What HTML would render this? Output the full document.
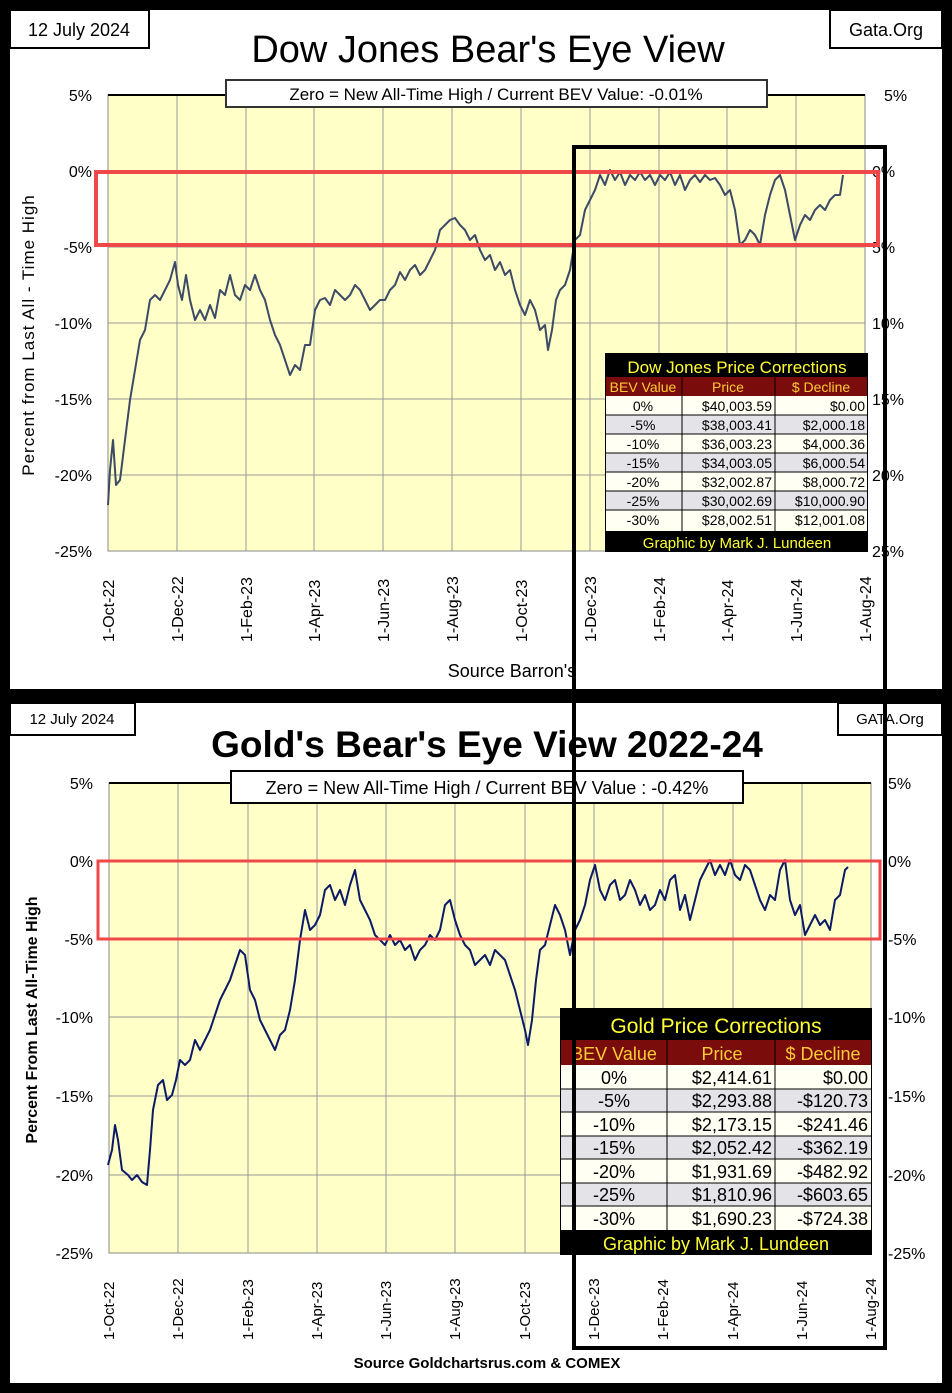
<!DOCTYPE html>
<html><head><meta charset="utf-8"><style>
html,body{margin:0;padding:0;background:#000;}
svg{display:block;}
.c{font-family:"Liberation Sans Narrow","Liberation Sans",sans-serif;}
.a{font-family:"Liberation Sans",sans-serif;}
</style></head><body>
<svg width="952" height="1393" viewBox="0 0 952 1393" xmlns="http://www.w3.org/2000/svg">
<rect x="0" y="0" width="952" height="1393" fill="#000"/>
<!-- TOP PANEL -->
<rect x="10" y="10" width="932" height="679" fill="#fff"/>
<rect x="10" y="10" width="139" height="38" fill="#fff" stroke="#000" stroke-width="2"/>
<text x="79" y="36" class="c" font-size="18" text-anchor="middle">12 July 2024</text>
<rect x="830" y="10" width="112" height="38" fill="#fff" stroke="#000" stroke-width="2"/>
<text x="886" y="36" class="c" font-size="18" text-anchor="middle">Gata.Org</text>
<text x="488" y="62" class="c" font-size="38" text-anchor="middle">Dow Jones Bear's Eye View</text>
<rect x="108" y="95" width="757" height="456" fill="#ffffc8" stroke="#888" stroke-width="1"/>
<g stroke="#999" stroke-width="1">
<line x1="177" y1="95" x2="177" y2="551"/><line x1="246" y1="95" x2="246" y2="551"/><line x1="314" y1="95" x2="314" y2="551"/><line x1="383" y1="95" x2="383" y2="551"/><line x1="452" y1="95" x2="452" y2="551"/><line x1="521" y1="95" x2="521" y2="551"/><line x1="590" y1="95" x2="590" y2="551"/><line x1="659" y1="95" x2="659" y2="551"/><line x1="727" y1="95" x2="727" y2="551"/><line x1="796" y1="95" x2="796" y2="551"/>
<line x1="108" y1="171" x2="865" y2="171"/><line x1="108" y1="247" x2="865" y2="247"/><line x1="108" y1="323" x2="865" y2="323"/><line x1="108" y1="399" x2="865" y2="399"/><line x1="108" y1="475" x2="865" y2="475"/>
</g>
<line x1="108" y1="95" x2="865" y2="95" stroke="#000" stroke-width="2"/>
<g class="a" font-size="16" text-anchor="end">
<text x="92" y="101">5%</text><text x="92" y="177">0%</text><text x="92" y="253">-5%</text><text x="92" y="329">-10%</text><text x="92" y="405">-15%</text><text x="92" y="481">-20%</text><text x="92" y="557">-25%</text>
</g>
<g class="c" font-size="16">
<text x="884" y="101">5%</text><text x="872" y="177">0%</text><text x="872" y="253">5%</text><text x="872" y="329">10%</text><text x="872" y="405">15%</text><text x="872" y="481">20%</text><text x="872" y="557">25%</text>
</g>
<text transform="translate(34,335) rotate(-90)" class="c" font-size="17" text-anchor="middle" letter-spacing="1">Percent  from  Last  All - Time  High</text>
<g class="a" font-size="16">
<text transform="translate(114,642) rotate(-90)">1-Oct-22</text>
<text transform="translate(183,642) rotate(-90)">1-Dec-22</text>
<text transform="translate(252,642) rotate(-90)">1-Feb-23</text>
<text transform="translate(320,642) rotate(-90)">1-Apr-23</text>
<text transform="translate(389,642) rotate(-90)">1-Jun-23</text>
<text transform="translate(458,642) rotate(-90)">1-Aug-23</text>
<text transform="translate(527,642) rotate(-90)">1-Oct-23</text>
<text transform="translate(596,642) rotate(-90)">1-Dec-23</text>
<text transform="translate(665,642) rotate(-90)">1-Feb-24</text>
<text transform="translate(733,642) rotate(-90)">1-Apr-24</text>
<text transform="translate(802,642) rotate(-90)">1-Jun-24</text>
<text transform="translate(871,642) rotate(-90)">1-Aug-24</text>
</g>
<text x="512" y="677" class="c" font-size="18" text-anchor="middle">Source Barron's</text>
<rect x="226" y="80" width="541" height="27" fill="#fff" stroke="#333" stroke-width="2"/>
<text x="496" y="100" class="c" font-size="17" text-anchor="middle">Zero = New All-Time High / Current BEV Value:  -0.01%</text>
<polyline fill="none" stroke="#3d4a66" stroke-width="2" stroke-linejoin="round" points="108,505 110,470 113,440 116,485 120,480 125,440 130,400 135,370 140,340 145,330 150,300 155,295 160,300 165,290 170,280 175,262 178,285 182,300 186,275 190,300 195,320 200,310 205,320 210,305 215,318 220,290 225,295 230,275 235,295 240,300 245,285 250,290 255,275 260,290 265,300 270,320 275,335 280,345 285,360 290,375 295,365 300,370 305,345 310,345 315,310 320,300 325,298 330,305 335,290 340,295 345,300 350,295 355,285 360,290 365,300 370,310 375,305 380,300 385,300 390,290 395,285 400,272 405,280 410,270 415,265 420,275 425,270 430,260 435,250 440,230 445,225 450,220 455,218 460,225 465,230 470,240 475,235 480,250 485,260 490,255 495,270 500,262 505,275 510,270 515,290 520,305 525,315 530,300 535,310 540,330 545,325 548,350 552,330 556,300 560,290 565,285 570,270 575,240 580,235 585,210 590,200 595,190 600,175 605,185 610,170 615,180 620,172 625,185 630,175 635,180 640,172 645,180 650,175 655,185 660,175 665,180 670,172 675,185 680,175 685,190 690,180 695,175 700,182 705,175 710,180 715,178 720,185 725,195 730,190 735,210 740,245 745,240 750,230 755,235 760,245 765,215 770,195 775,180 780,175 785,190 790,215 795,240 800,225 805,215 810,220 815,210 820,205 825,210 830,200 835,195 840,195 843,175"/>
<rect x="96" y="172" width="782" height="73" fill="none" stroke="#f04848" stroke-width="4"/>
<!-- Dow table -->
<g class="a">
<rect x="605" y="353" width="263" height="199" fill="#000"/>
<text x="737" y="373" font-size="17" fill="#ffff33" text-anchor="middle">Dow Jones Price Corrections</text>
<rect x="606" y="377" width="261" height="19" fill="#7a0c0c"/>
<text x="643" y="392" font-size="14" fill="#ffcc33" text-anchor="middle">BEV Value</text>
<text x="728" y="392" font-size="14" fill="#ffcc33" text-anchor="middle">Price</text>
<text x="821" y="392" font-size="14" fill="#ffcc33" text-anchor="middle">$ Decline</text>
<g font-size="14">
<rect x="606" y="396" width="261" height="19" fill="#fffff4"/><rect x="606" y="415" width="261" height="19" fill="#e4e4e8"/><rect x="606" y="434" width="261" height="19" fill="#fffff4"/><rect x="606" y="453" width="261" height="19" fill="#e4e4e8"/><rect x="606" y="472" width="261" height="19" fill="#fffff4"/><rect x="606" y="491" width="261" height="19" fill="#e4e4e8"/><rect x="606" y="510" width="261" height="21" fill="#fffff4"/>
<g stroke="#000" stroke-width="1"><line x1="682" y1="377" x2="682" y2="531"/><line x1="775" y1="377" x2="775" y2="531"/>
<line x1="606" y1="415" x2="867" y2="415"/><line x1="606" y1="434" x2="867" y2="434"/><line x1="606" y1="453" x2="867" y2="453"/><line x1="606" y1="472" x2="867" y2="472"/><line x1="606" y1="491" x2="867" y2="491"/><line x1="606" y1="510" x2="867" y2="510"/></g>
<g text-anchor="middle"><text x="643" y="411">0%</text><text x="643" y="430">-5%</text><text x="643" y="449">-10%</text><text x="643" y="468">-15%</text><text x="643" y="487">-20%</text><text x="643" y="506">-25%</text><text x="643" y="525">-30%</text></g>
<g text-anchor="end"><text x="772" y="411">$40,003.59</text><text x="772" y="430">$38,003.41</text><text x="772" y="449">$36,003.23</text><text x="772" y="468">$34,003.05</text><text x="772" y="487">$32,002.87</text><text x="772" y="506">$30,002.69</text><text x="772" y="525">$28,002.51</text>
<text x="865" y="411">$0.00</text><text x="865" y="430">$2,000.18</text><text x="865" y="449">$4,000.36</text><text x="865" y="468">$6,000.54</text><text x="865" y="487">$8,000.72</text><text x="865" y="506">$10,000.90</text><text x="865" y="525">$12,001.08</text></g>
</g>
<text x="737" y="548" font-size="15" fill="#ffff33" text-anchor="middle">Graphic by Mark J. Lundeen</text>
</g>

<!-- BOTTOM PANEL -->
<rect x="10" y="703" width="932" height="680" fill="#fff"/>
<rect x="10" y="703" width="125" height="32" fill="#fff" stroke="#000" stroke-width="2"/>
<text x="72" y="724" class="c" font-size="15" text-anchor="middle">12 July 2024</text>
<rect x="838" y="703" width="104" height="32" fill="#fff" stroke="#000" stroke-width="2"/>
<text x="890" y="724" class="c" font-size="15" text-anchor="middle">GATA.Org</text>
<text x="487" y="757" class="c" font-size="37" font-weight="bold" text-anchor="middle">Gold's Bear's Eye View 2022-24</text>
<rect x="109" y="783" width="762" height="470" fill="#ffffc8" stroke="#888" stroke-width="1"/>
<g stroke="#999" stroke-width="1">
<line x1="178" y1="783" x2="178" y2="1253"/><line x1="248" y1="783" x2="248" y2="1253"/><line x1="317" y1="783" x2="317" y2="1253"/><line x1="386" y1="783" x2="386" y2="1253"/><line x1="455" y1="783" x2="455" y2="1253"/><line x1="525" y1="783" x2="525" y2="1253"/><line x1="594" y1="783" x2="594" y2="1253"/><line x1="663" y1="783" x2="663" y2="1253"/><line x1="733" y1="783" x2="733" y2="1253"/><line x1="802" y1="783" x2="802" y2="1253"/>
<line x1="109" y1="861" x2="871" y2="861"/><line x1="109" y1="939" x2="871" y2="939"/><line x1="109" y1="1017" x2="871" y2="1017"/><line x1="109" y1="1096" x2="871" y2="1096"/><line x1="109" y1="1175" x2="871" y2="1175"/>
</g>
<line x1="109" y1="783" x2="871" y2="783" stroke="#000" stroke-width="2"/>
<g class="c" font-size="16" text-anchor="end">
<text x="93" y="789">5%</text><text x="93" y="867">0%</text><text x="93" y="945">-5%</text><text x="93" y="1023">-10%</text><text x="93" y="1102">-15%</text><text x="93" y="1181">-20%</text><text x="93" y="1259">-25%</text>
</g>
<g class="c" font-size="16">
<text x="888" y="789">5%</text><text x="888" y="867">0%</text><text x="888" y="945">-5%</text><text x="888" y="1023">-10%</text><text x="888" y="1102">-15%</text><text x="888" y="1181">-20%</text><text x="888" y="1259">-25%</text>
</g>
<text transform="translate(37,1020) rotate(-90)" class="c" font-size="16" font-weight="bold" text-anchor="middle">Percent  From  Last  All-Time  High</text>
<g class="c" font-size="15">
<text transform="translate(114,1340) rotate(-90)">1-Oct-22</text>
<text transform="translate(183,1340) rotate(-90)">1-Dec-22</text>
<text transform="translate(253,1340) rotate(-90)">1-Feb-23</text>
<text transform="translate(322,1340) rotate(-90)">1-Apr-23</text>
<text transform="translate(391,1340) rotate(-90)">1-Jun-23</text>
<text transform="translate(460,1340) rotate(-90)">1-Aug-23</text>
<text transform="translate(530,1340) rotate(-90)">1-Oct-23</text>
<text transform="translate(599,1340) rotate(-90)">1-Dec-23</text>
<text transform="translate(668,1340) rotate(-90)">1-Feb-24</text>
<text transform="translate(738,1340) rotate(-90)">1-Apr-24</text>
<text transform="translate(807,1340) rotate(-90)">1-Jun-24</text>
<text transform="translate(876,1340) rotate(-90)">1-Aug-24</text>
</g>
<text x="487" y="1368" class="c" font-size="15" font-weight="bold" text-anchor="middle">Source Goldchartsrus.com  &amp; COMEX</text>
<rect x="231" y="771" width="512" height="32" fill="#fff" stroke="#000" stroke-width="2"/>
<text x="487" y="794" class="c" font-size="18" text-anchor="middle">Zero = New All-Time High / Current  BEV Value : -0.42%</text>
<polyline fill="none" stroke="#0c1a66" stroke-width="2" stroke-linejoin="round" points="108,1165 112,1150 115,1125 118,1140 122,1170 128,1175 132,1180 137,1175 142,1182 147,1185 150,1150 153,1110 158,1085 163,1080 167,1100 172,1095 176,1080 180,1060 185,1065 190,1060 195,1040 200,1050 205,1040 210,1030 215,1015 220,1000 225,990 230,980 235,965 240,950 245,955 250,990 255,1000 260,1020 265,1030 270,1040 275,1050 280,1035 285,1030 290,1010 295,980 300,940 305,910 310,930 315,925 320,915 325,890 330,885 335,900 340,890 345,905 350,885 355,870 360,900 365,910 370,920 375,935 380,940 385,945 390,935 395,945 400,940 405,950 410,945 415,960 420,950 425,945 430,935 435,940 440,930 445,905 450,900 455,920 460,935 465,945 470,950 475,965 480,960 485,955 490,965 495,950 500,955 505,960 510,975 515,990 520,1010 525,1030 528,1045 532,1020 536,980 540,950 545,945 550,925 555,905 560,915 565,930 570,955 575,930 580,920 585,905 590,880 595,865 600,890 605,900 610,885 615,880 620,900 625,895 630,880 635,890 640,905 645,895 650,910 655,905 660,890 665,900 670,880 675,875 680,910 685,895 690,920 695,900 700,880 705,870 710,860 715,875 720,865 725,875 730,860 735,875 740,880 745,865 750,870 755,885 760,900 765,910 770,895 775,900 780,870 785,860 790,900 795,915 800,905 805,935 810,925 815,915 820,925 825,920 830,930 835,900 840,895 845,870 848,867"/>
<rect x="98" y="861" width="782" height="78" fill="none" stroke="#f04848" stroke-width="3"/>
<!-- Gold table -->
<g class="a">
<rect x="560" y="1008" width="312" height="247" fill="#000"/>
<text x="716" y="1033" font-size="21" fill="#ffff33" text-anchor="middle">Gold Price Corrections</text>
<rect x="561" y="1040" width="310" height="25" fill="#7a0c0c"/>
<text x="614" y="1060" font-size="18" fill="#ffcc33" text-anchor="middle">BEV Value</text>
<text x="722" y="1060" font-size="18" fill="#ffcc33" text-anchor="middle">Price</text>
<text x="823" y="1060" font-size="18" fill="#ffcc33" text-anchor="middle">$ Decline</text>
<g font-size="18">
<rect x="561" y="1065" width="310" height="24" fill="#fffff4"/><rect x="561" y="1089" width="310" height="23" fill="#e4e4e8"/><rect x="561" y="1112" width="310" height="24" fill="#fffff4"/><rect x="561" y="1136" width="310" height="23" fill="#e4e4e8"/><rect x="561" y="1159" width="310" height="24" fill="#fffff4"/><rect x="561" y="1183" width="310" height="23" fill="#e4e4e8"/><rect x="561" y="1206" width="310" height="24" fill="#fffff4"/>
<g stroke="#000" stroke-width="1"><line x1="667" y1="1040" x2="667" y2="1230"/><line x1="775" y1="1040" x2="775" y2="1230"/>
<line x1="561" y1="1089" x2="871" y2="1089"/><line x1="561" y1="1112" x2="871" y2="1112"/><line x1="561" y1="1136" x2="871" y2="1136"/><line x1="561" y1="1159" x2="871" y2="1159"/><line x1="561" y1="1183" x2="871" y2="1183"/><line x1="561" y1="1206" x2="871" y2="1206"/></g>
<g text-anchor="middle"><text x="614" y="1084">0%</text><text x="614" y="1107">-5%</text><text x="614" y="1131">-10%</text><text x="614" y="1154">-15%</text><text x="614" y="1178">-20%</text><text x="614" y="1201">-25%</text><text x="614" y="1225">-30%</text></g>
<g text-anchor="end"><text x="772" y="1084">$2,414.61</text><text x="772" y="1107">$2,293.88</text><text x="772" y="1131">$2,173.15</text><text x="772" y="1154">$2,052.42</text><text x="772" y="1178">$1,931.69</text><text x="772" y="1201">$1,810.96</text><text x="772" y="1225">$1,690.23</text>
<text x="868" y="1084">$0.00</text><text x="868" y="1107">-$120.73</text><text x="868" y="1131">-$241.46</text><text x="868" y="1154">-$362.19</text><text x="868" y="1178">-$482.92</text><text x="868" y="1201">-$603.65</text><text x="868" y="1225">-$724.38</text></g>
</g>
<text x="716" y="1250" font-size="18" fill="#ffff33" text-anchor="middle">Graphic by Mark J. Lundeen</text>
</g>
<!-- big black rectangle -->
<rect x="574" y="147" width="311" height="1201" fill="none" stroke="#000" stroke-width="4"/>
</svg>
</body></html>
